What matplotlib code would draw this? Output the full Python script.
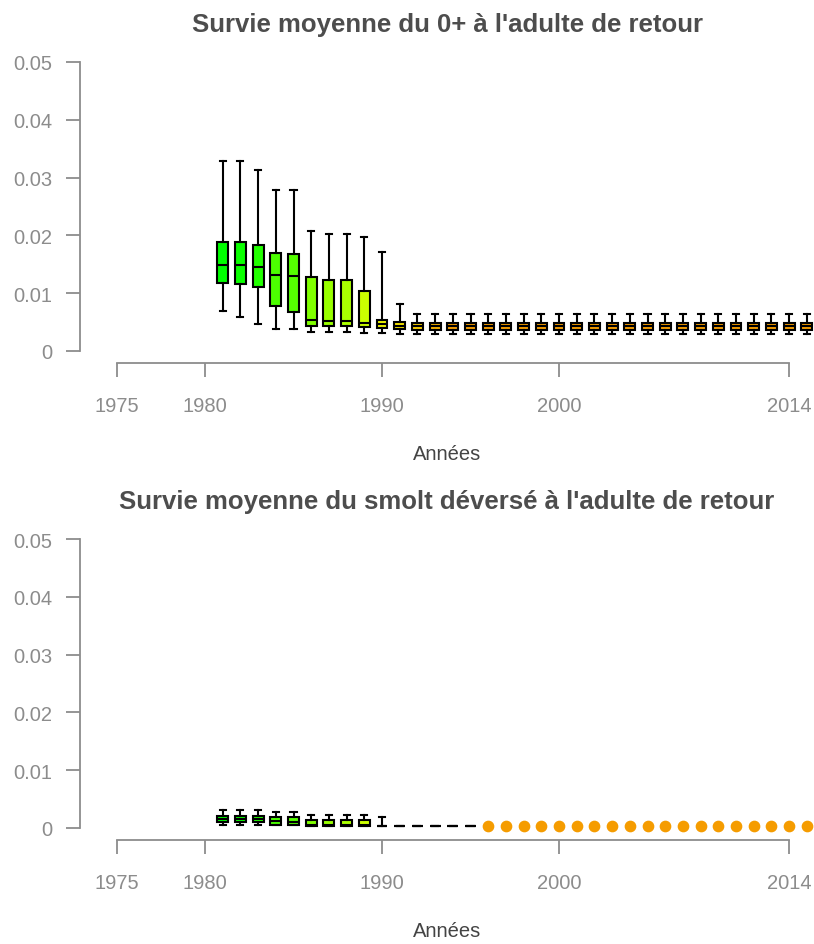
import matplotlib
matplotlib.use("Agg")
import matplotlib.pyplot as plt
import numpy as np

plt.rcParams['font.family'] = ['Liberation Sans', 'DejaVu Sans']

# ---- data ----
years = list(range(1981, 2015))

# top panel: survival 0+ -> returning adult
top_whislo = [0.0070, 0.0059, 0.0046, 0.0038, 0.0038, 0.0033, 0.0033, 0.0033, 0.0032, 0.0031, 0.0029] + [0.0029] * 23
top_q1     = [0.0118, 0.0116, 0.0111, 0.0078, 0.0067, 0.0044, 0.0043, 0.0043, 0.0041, 0.0039, 0.0038] + [0.0037] * 23
top_med    = [0.0149, 0.0149, 0.0146, 0.0131, 0.0129, 0.0054, 0.0052, 0.0052, 0.0049, 0.0046, 0.0043] + [0.0043] * 23
top_q3     = [0.0189, 0.0188, 0.0184, 0.0170, 0.0168, 0.0128, 0.0123, 0.0122, 0.0104, 0.0054, 0.0050] + [0.0049] * 23
top_whishi = [0.0329, 0.0329, 0.0314, 0.0279, 0.0279, 0.0207, 0.0203, 0.0202, 0.0198, 0.0172, 0.0081] + [0.0064] * 23

box_colors = ["#00FF00", "#0AFF00", "#22FF00", "#4CFF00", "#55FF00", "#80FF00", "#99FF00",
              "#AAFF00", "#CCFF00", "#EEF500", "#F5E200", "#F7CC00", "#F5B000"] + ["#F59C00"] * 21

# bottom panel: survival released smolt -> returning adult
bot_years  = list(range(1981, 1996))
bot_whislo = [0.0006, 0.0006, 0.0006, 0.0005, 0.0005, 0.0004, 0.0004, 0.0004, 0.0004, 0.0004] + [0.0004] * 5
bot_q1     = [0.0010, 0.0010, 0.0010, 0.0006, 0.0005, 0.0004, 0.0004, 0.0004, 0.0004, 0.0004] + [0.0004] * 5
bot_med    = [0.0015, 0.0015, 0.0015, 0.0012, 0.0011, 0.0006, 0.0006, 0.0006, 0.0006, 0.0004] + [0.0004] * 5
bot_q3     = [0.0020, 0.0020, 0.0020, 0.0019, 0.0019, 0.0014, 0.0014, 0.0014, 0.0013, 0.0004] + [0.0004] * 5
bot_whishi = [0.0032, 0.0032, 0.0032, 0.0028, 0.0028, 0.0023, 0.0023, 0.0023, 0.0023, 0.0019] + [0.0004] * 5
dot_years  = list(range(1996, 2015))
dot_values = [0.0004] * 19

xtick_pos = [1975, 1980, 1990, 2000, 2013]
xtick_lab = ["1975", "1980", "1990", "2000", "2014"]
ytick_pos = [0, 0.01, 0.02, 0.03, 0.04, 0.05]
ytick_lab = ["0", "0.01", "0.02", "0.03", "0.04", "0.05"]

titles = ["Survie moyenne du 0+ à l'adulte de retour",
          "Survie moyenne du smolt déversé à l'adulte de retour"]

GREY = "#8c8c8c"
W, H = 814, 945
fig = plt.figure(figsize=(W / 100, H / 100), dpi=100)


def make_axes(y_zero, y_top):
    ax = fig.add_axes([80 / W, 1 - y_zero / H, (W - 80) / W, (y_zero - y_top) / H])
    ax.set_xlim(1980 - 125 / 17.7, 1980 + (W - 205) / 17.7)
    ax.set_ylim(0, 0.05)
    for s in ["top", "right"]:
        ax.spines[s].set_visible(False)
    for s in ["left", "bottom"]:
        ax.spines[s].set_color(GREY)
        ax.spines[s].set_linewidth(1.3)
    ax.spines["left"].set_bounds(0, 0.05)
    ax.spines["bottom"].set_position(("outward", 8.6))
    ax.spines["bottom"].set_bounds(1975, 2013)
    ax.set_xticks(xtick_pos, xtick_lab)
    ax.set_yticks(ytick_pos, ytick_lab)
    ax.tick_params(axis="both", colors=GREY, labelcolor=GREY, labelsize=14.5,
                   length=10, width=1.3)
    ax.tick_params(axis="x", pad=14)
    ax.tick_params(axis="y", pad=10)
    ax.set_xlabel("Années", fontsize=14.5, color="#444444", labelpad=21)
    return ax


def draw_boxes(ax, pos, wlo, q1, med, q3, whi, colors):
    stats = [dict(whislo=a, q1=b, med=c, q3=d, whishi=e)
             for a, b, c, d, e in zip(wlo, q1, med, q3, whi)]
    res = ax.bxp(stats, positions=pos, widths=0.62, patch_artist=True,
                 showfliers=False, manage_ticks=False,
                 boxprops=dict(edgecolor="black", linewidth=1.5),
                 medianprops=dict(color="black", linewidth=1.5),
                 whiskerprops=dict(color="black", linewidth=1.5),
                 capprops=dict(color="black", linewidth=1.5),
                 capwidths=0.34)
    for patch, c in zip(res["boxes"], colors):
        patch.set_facecolor(c)


ax1 = make_axes(352, 63)
draw_boxes(ax1, years, top_whislo, top_q1, top_med, top_q3, top_whishi, box_colors)
ax1.set_title(titles[0], fontsize=18.5, fontweight="bold", color="#4d4d4d", pad=22)

ax2 = make_axes(829, 540)
draw_boxes(ax2, bot_years, bot_whislo, bot_q1, bot_med, bot_q3, bot_whishi,
           box_colors[:len(bot_years)])
ax2.plot(dot_years, dot_values, "o", color="#F59C00", markersize=7.4, clip_on=False)
ax2.set_title(titles[1], fontsize=18.5, fontweight="bold", color="#4d4d4d", pad=22)

fig.savefig("out.png", dpi=100)
